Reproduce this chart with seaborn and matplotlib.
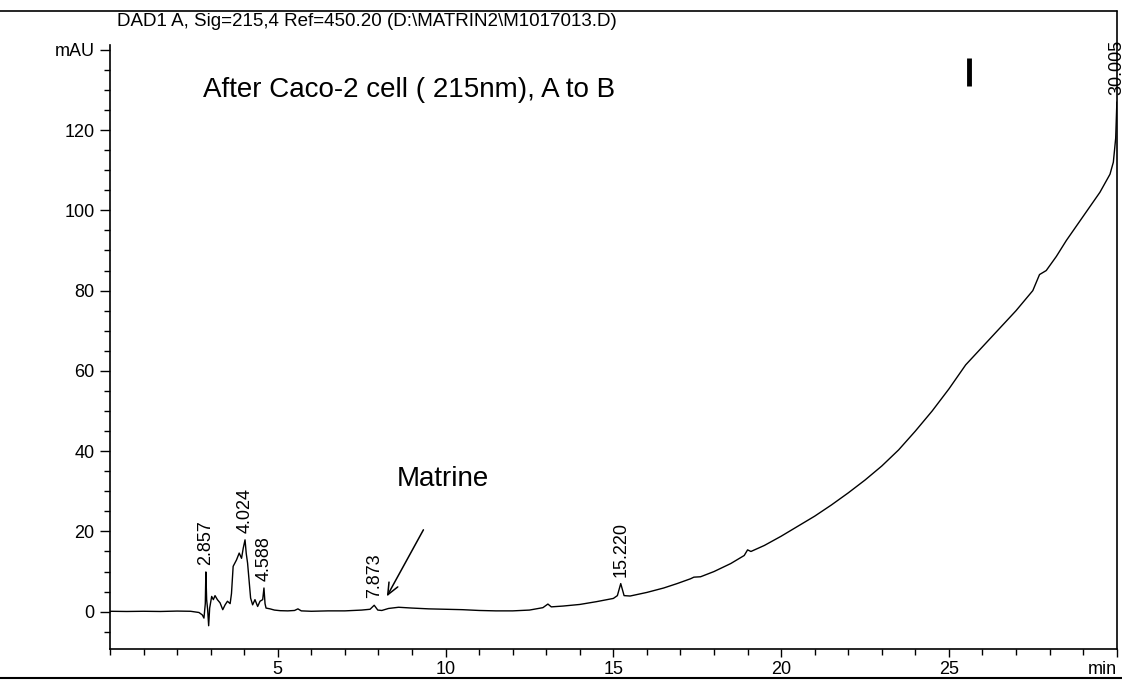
import numpy as np
import pandas as pd
import matplotlib
matplotlib.use("Agg")
import matplotlib.pyplot as plt
from matplotlib.ticker import MultipleLocator, FixedLocator, FixedFormatter
from matplotlib.lines import Line2D
import seaborn as sns

# Retention time (min) and detector response (mAU) of the DAD1 A trace
rt_min = [
    0.0, 0.5, 1.0, 1.5, 2.0, 2.4, 2.65, 2.75, 2.80, 2.84, 2.857, 2.88, 2.91,
    2.94, 2.97, 3.03, 3.08, 3.13, 3.20, 3.28, 3.36, 3.43, 3.50, 3.58, 3.62,
    3.67, 3.77, 3.85, 3.92, 3.97, 4.024, 4.06, 4.10, 4.19, 4.25, 4.32, 4.40,
    4.47, 4.55, 4.588, 4.62, 4.65, 4.77, 4.90, 5.07, 5.30, 5.50, 5.60, 5.70,
    6.0, 6.5, 7.0, 7.5, 7.75, 7.873, 7.98, 8.1, 8.3, 8.6, 9.0, 9.5, 10.0,
    10.5, 11.0, 11.5, 12.0, 12.5, 12.9, 13.05, 13.15, 13.5, 14.0, 14.5, 15.0,
    15.12, 15.220, 15.32, 15.5, 16.0, 16.5, 16.9, 17.3, 17.4, 17.6, 18.0,
    18.5, 18.9, 19.0, 19.1, 19.5, 20.0, 20.5, 21.0, 21.5, 22.0, 22.5, 23.0,
    23.5, 24.0, 24.5, 25.0, 25.5, 26.0, 26.5, 27.0, 27.5, 27.7, 27.9, 28.2,
    28.5, 29.0, 29.5, 29.8, 29.9, 29.97, 30.005,
]
signal_mau = [
    0.1, 0.05, 0.1, 0.05, 0.15, 0.1, -0.2, -0.8, -1.6, 2.0, 9.9, 3.0, 0.5,
    -3.5, 0.9, 3.8, 3.0, 4.0, 3.0, 2.2, 0.5, 1.7, 2.6, 2.0, 4.5,
    11.3, 12.9, 14.6, 13.3, 15.8, 17.9, 14.5, 12.1, 3.4, 1.7, 3.0, 1.3,
    2.6, 3.0, 5.9, 2.0, 0.9, 0.7, 0.4, 0.25, 0.2, 0.3, 0.7, 0.2,
    0.1, 0.2, 0.2, 0.4, 0.6, 1.6, 0.4, 0.3, 0.8, 1.1, 0.9, 0.7, 0.6,
    0.5, 0.3, 0.2, 0.2, 0.4, 1.0, 1.9, 1.2, 1.4, 1.8, 2.5, 3.3,
    4.0, 7.0, 4.0, 3.9, 4.8, 5.9, 7.0, 8.2, 8.6, 8.7, 10.0,
    12.0, 14.0, 15.4, 15.0, 16.5, 18.8, 21.3, 23.8, 26.6, 29.6, 32.8, 36.3,
    40.3, 45.0, 50.0, 55.5, 61.5, 66.0, 70.5, 75.0, 80.0, 84.0, 85.0, 88.5,
    92.5, 98.5, 104.5, 109.0, 112.0, 118.0, 127.0,
]

# Integrated peaks labelled with their retention times
peak_rt = [2.857, 4.024, 4.588, 7.873, 15.220, 30.005]

# Axis ticks
x_major = [5, 10, 15, 20, 25, 30]
x_labels = ["5", "10", "15", "20", "25", "min"]
y_major = [0, 20, 40, 60, 80, 100, 120, 140]
y_labels = ["0", "20", "40", "60", "80", "100", "120", "mAU"]

header = r"DAD1 A, Sig=215,4 Ref=450.20 (D:\MATRIN2\M1017013.D)"
sample_note = "After Caco-2 cell ( 215nm), A to B"
compound = "Matrine"

trace = pd.DataFrame({"rt": rt_min, "mau": signal_mau})

sns.set_theme(style="ticks")
plt.rcParams["font.family"] = ["Liberation Sans", "DejaVu Sans"]

W, H = 1122, 682
fig = plt.figure(figsize=(W / 100, H / 100), dpi=100)
ax = fig.add_axes([110 / W, 1 - 649 / H, (1116.7 - 110) / W, (649 - 45) / H])

sns.lineplot(data=trace, x="rt", y="mau", ax=ax, color="black", lw=1.0,
             estimator=None, sort=False)

ax.set_xlim(0, 30)
ax.set_ylim(-9.3, 141.2)
ax.set_xlabel("")
ax.set_ylabel("")

ax.xaxis.set_major_locator(FixedLocator(x_major))
ax.xaxis.set_major_formatter(FixedFormatter(x_labels))
ax.xaxis.set_minor_locator(MultipleLocator(1))
ax.yaxis.set_major_locator(FixedLocator(y_major))
ax.yaxis.set_major_formatter(FixedFormatter(y_labels))
ax.yaxis.set_minor_locator(MultipleLocator(5))

ax.tick_params(axis="y", which="major", length=7, width=1, pad=4,
               labelsize=13, colors="black")
ax.tick_params(axis="y", which="minor", length=4, width=1, colors="black")
ax.tick_params(axis="x", which="major", length=6, width=1, pad=3,
               labelsize=13, colors="black")
ax.tick_params(axis="x", which="minor", length=4, width=1, colors="black")
for lab in ax.get_xticklabels():
    if lab.get_text() == "min":
        lab.set_ha("right")

for side in ("left", "bottom", "right"):
    ax.spines[side].set_color("black")
    ax.spines[side].set_linewidth(1.2)
ax.spines["top"].set_visible(False)

# Retention-time labels above each integrated peak
for t in peak_rt:
    apex = signal_mau[rt_min.index(t)]
    ax.annotate(f"{t:.3f}", xy=(t, apex), xytext=(0, 5),
                textcoords="offset points", rotation=90, ha="center",
                va="bottom", fontsize=13, color="black", annotation_clip=False)

ax.text(2.77, 130, sample_note, fontsize=20, ha="left", va="center",
        color="black")
ax.text(9.93, 33.0, compound, fontsize=20, ha="center", va="center",
        color="black")
ax.annotate("", xy=(8.25, 3.8), xytext=(9.34, 20.4),
            arrowprops=dict(arrowstyle="->,head_length=0.7,head_width=0.3",
                            color="black", lw=1.1, shrinkA=0, shrinkB=0))

# Event marker near the end of the run
ax.vlines(25.6, 130.9, 137.9, color="black", lw=3.5)

# Report page frame
fig.add_artist(Line2D([0, 1116.7 / W], [1 - 11 / H, 1 - 11 / H],
                      transform=fig.transFigure, color="black", lw=1.2))
fig.add_artist(Line2D([1116.7 / W, 1116.7 / W], [1 - 11 / H, 1 - 45 / H],
                      transform=fig.transFigure, color="black", lw=1.2))
fig.add_artist(Line2D([0, 1], [1 - 678 / H, 1 - 678 / H],
                      transform=fig.transFigure, color="black", lw=1.5))

fig.text(117 / W, 1 - 22 / H, header, fontsize=13.5, ha="left",
         va="center", color="black")

fig.savefig("out.png", dpi=100, facecolor="white")
